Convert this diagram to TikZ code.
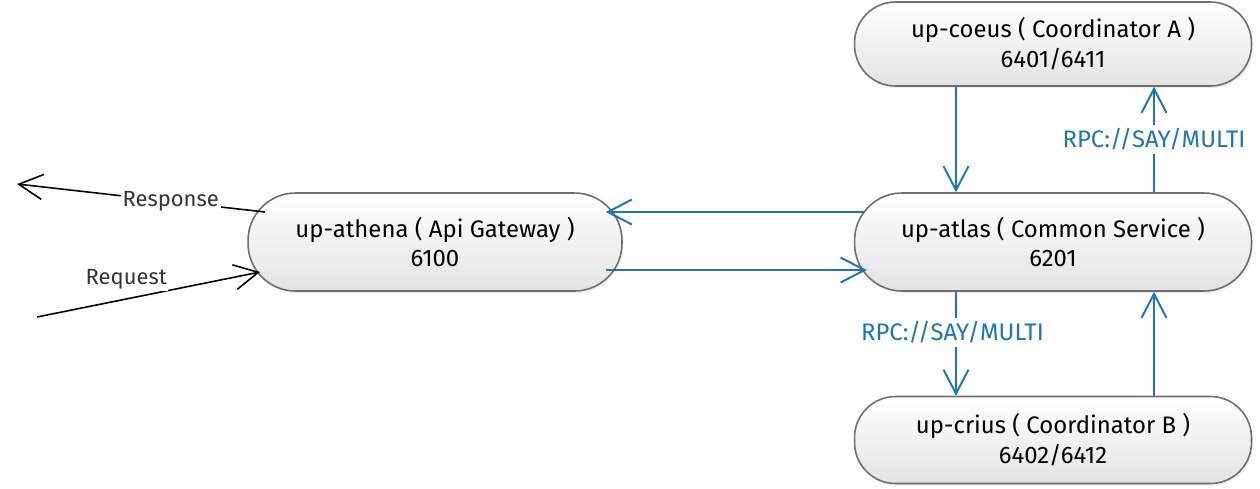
\documentclass[tikz,border=0pt]{standalone}
\usepackage{fontspec}
\setmainfont{Fira Sans}
\usetikzlibrary{arrows.meta,shadows,positioning}
\definecolor{rpcblue}{HTML}{1B75BC}
\definecolor{boxline}{HTML}{6E6E6E}
\definecolor{labgray}{HTML}{333333}

\begin{document}
\begin{tikzpicture}[x=0.02cm,y=-0.02cm,
  svc/.style={draw=boxline, line width=0.9pt, rounded corners=0.82cm,
    top color=white, bottom color=black!11,
    drop shadow={shadow xshift=0.8pt, shadow yshift=-1.2pt, fill=black!15},
    minimum width=7.94cm, align=center,
    font=\fontsize{13.6}{17}\selectfont, text=black},
  flow/.style={draw=rpcblue, line width=1.1pt, -{Straight Barb[length=4.8mm,width=5mm]}},
  io/.style={draw=black, line width=0.9pt, -{Straight Barb[length=4.8mm,width=5mm]}},
  rpc/.style={text=rpcblue, fill=white, inner sep=2pt, font=\fontsize{13.6}{15}\selectfont},
  iolab/.style={text=labgray, fill=white, inner sep=1pt, font=\fontsize{12.5}{15}\selectfont}]
  \useasboundingbox (0,0) rectangle (1260,488);

  \node[svc, minimum height=1.68cm] (coeus) at (1053,44) {up-coeus ( Coordinator A )\\6401/6411};
  \node[svc, minimum height=1.96cm, rounded corners=0.95cm, minimum width=7.48cm] (athena) at (435,242) {up-athena ( Api Gateway )\\6100};
  \node[svc, minimum height=1.96cm, rounded corners=0.95cm] (atlas) at (1053,242) {up-atlas ( Common Service )\\6201};
  \node[svc, minimum height=1.74cm] (crius) at (1053,440) {up-crius ( Coordinator B )\\6402/6412};

  \coordinate (resp) at (17,184);
  \coordinate (req) at (37,317);

  % atlas <-> coordinators
  \draw[flow] ([shift={(-97,0)}]coeus.south) -- ([shift={(-97,0)}]atlas.north);
  \draw[flow] ([shift={(101,0)}]atlas.north) -- node[rpc] {RPC://SAY/MULTI} ([shift={(101,0)}]coeus.south);
  \draw[flow] ([shift={(-97,0)}]atlas.south) -- node[rpc, pos=0.39, xshift=-2pt] {RPC://SAY/MULTI} ([shift={(-97,0)}]crius.north);
  \draw[flow] ([shift={(101,0)}]crius.north) -- ([shift={(101,0)}]atlas.south);

  % gateway <-> atlas
  \draw[flow] ([shift={(10,-30)}]atlas.west) -- ([shift={(-17,-30)}]athena.east);
  \draw[flow] ([shift={(-17,28)}]athena.east) -- ([shift={(13,28)}]atlas.west);

  % client
  \draw[io] ([shift={(-170,-30)}]athena.center) -- node[iolab, pos=0.38] {Response} (resp);
  \draw[io] (req) -- node[iolab, pos=0.4, yshift=0.39cm] {Request} ([shift={(-175,30)}]athena.center);
\end{tikzpicture}
\end{document}
